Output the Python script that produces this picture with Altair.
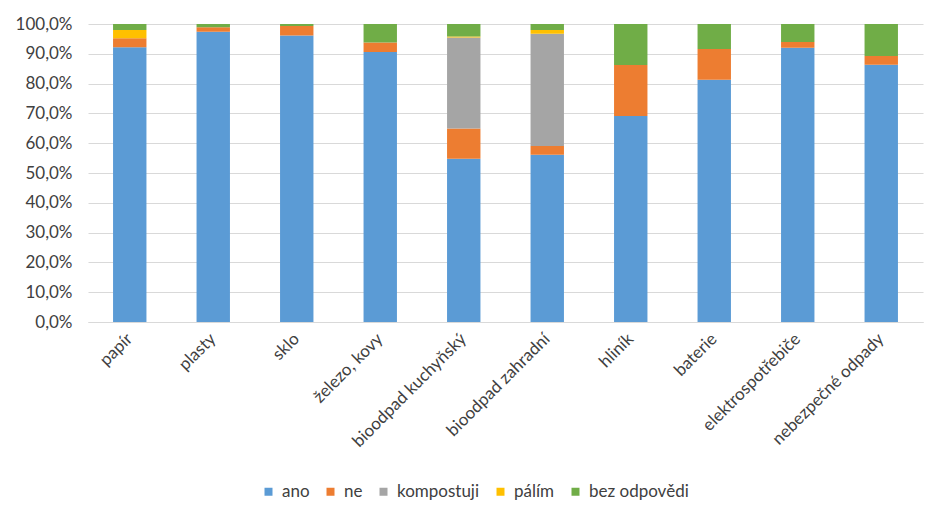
import altair as alt
import pandas as pd

categories = ["papír", "plasty", "sklo", "železo, kovy", "bioodpad kuchyňský",
              "bioodpad zahradní", "hliník", "baterie", "elektrospotřebiče",
              "nebezpečné odpady"]
series = ["ano", "ne", "kompostuji", "pálím", "bez odpovědi"]
colors = ["#5B9BD5", "#ED7D31", "#A5A5A5", "#FFC000", "#70AD47"]

ano = [92.2, 97.4, 96.1, 90.6, 54.8, 56.1, 69.1, 81.3, 92.0, 86.3]
ne = [3.0, 1.5, 3.2, 3.2, 10.1, 3.0, 17.1, 10.3, 2.0, 3.0]
kompostuji = [0.0, 0.0, 0.0, 0.0, 30.6, 37.6, 0.0, 0.0, 0.0, 0.0]
palim = [2.8, 0.0, 0.0, 0.0, 0.3, 1.3, 0.0, 0.0, 0.0, 0.0]
bez = [2.0, 1.1, 0.7, 6.2, 4.2, 2.0, 13.8, 8.4, 6.0, 10.7]

values = [ano, ne, kompostuji, palim, bez]
rows = []
for si, (s, vals) in enumerate(zip(series, values)):
    for c, v in zip(categories, vals):
        rows.append({"kategorie": c, "odpověď": s, "hodnota": v, "poradi": si})
df = pd.DataFrame(rows)

FONT = "Lato"
TXT = "#404040"
FS = 17

chart = alt.Chart(df).mark_bar().encode(
    x=alt.X("kategorie:N", sort=categories, title=None,
            scale=alt.Scale(paddingInner=0.6, paddingOuter=0.3),
            axis=alt.Axis(labelAngle=315, labelAlign="right", labelBaseline="middle",
                          labelFont=FONT, labelFontSize=FS, labelColor=TXT,
                          labelPadding=14, ticks=False, domainColor="#D9D9D9",
                          domainWidth=1)),
    y=alt.Y("hodnota:Q", stack="zero", title=None,
            scale=alt.Scale(domain=[0, 100], nice=False),
            axis=alt.Axis(values=list(range(0, 101, 10)),
                          labelExpr="replace(format(datum.value, '.1f'), '.', ',') + '%'",
                          labelFont=FONT, labelFontSize=FS, labelColor=TXT,
                          labelPadding=16, ticks=False, domain=False,
                          gridColor="#D9D9D9", gridWidth=1)),
    color=alt.Color("odpověď:N", sort=series,
                    scale=alt.Scale(domain=series, range=colors),
                    legend=alt.Legend(title=None, orient="none", direction="horizontal",
                                      legendX=172, legendY=459,
                                      symbolType="square", symbolSize=64,
                                      symbolStrokeWidth=0,
                                      labelFont=FONT, labelFontSize=FS, labelColor=TXT,
                                      labelOffset=5, columnPadding=12)),
    order=alt.Order("poradi:Q", sort="ascending"),
).properties(
    width=835, height=298,
    autosize=alt.AutoSizeParams(type="none"),
    padding={"left": 80, "top": 16, "right": 16, "bottom": 190},
).configure_view(stroke=None)

chart.save("out.html", embed_options={"renderer": "svg", "actions": False})
